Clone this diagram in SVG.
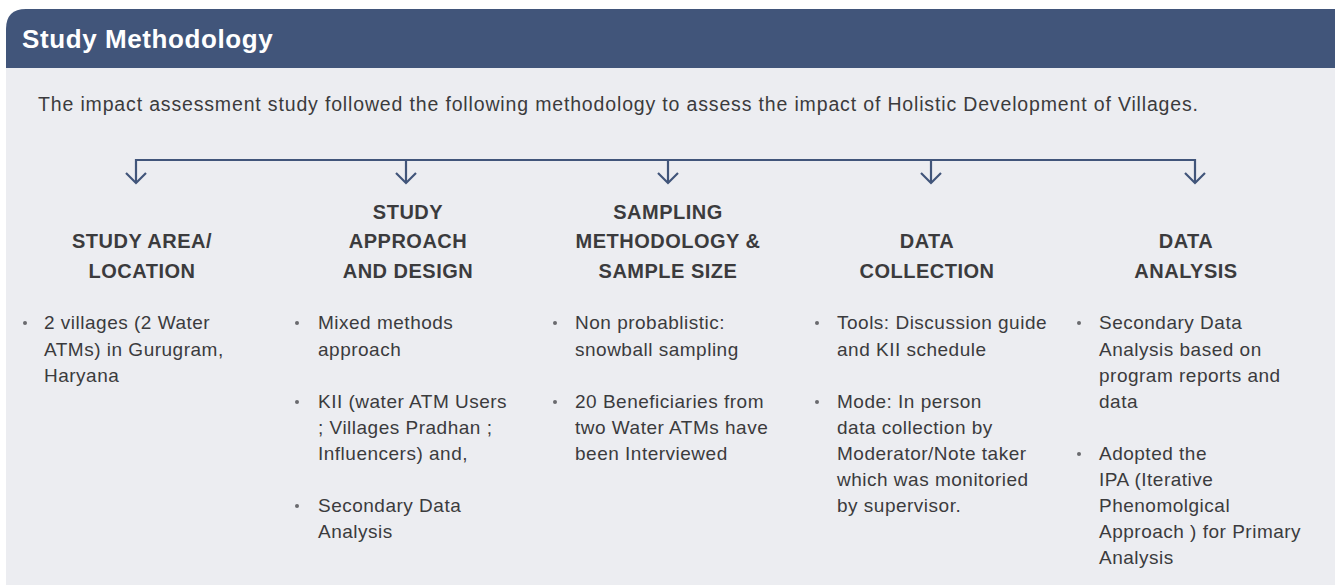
<svg xmlns="http://www.w3.org/2000/svg" width="1335" height="585" viewBox="0 0 1335 585">
  <style>
    .title { font-family: "Liberation Sans", Arial, sans-serif; font-size: 26px; font-weight: bold; fill: #ffffff; letter-spacing: 0.6px; }
    .intro { font-family: "Liberation Sans", Arial, sans-serif; font-size: 19.5px; fill: #3b3b3d; }
    .head { font-family: "Liberation Sans", Arial, sans-serif; font-size: 20px; font-weight: bold; fill: #3b3b3d; text-anchor: middle; letter-spacing: 0.5px; }
    .body { font-family: "Liberation Sans", Arial, sans-serif; font-size: 19px; fill: #3b3b3d; letter-spacing: 0.5px; }
    .dot { fill: #6a6a6e; }
    .conn { fill: none; stroke: #41557a; stroke-width: 2.2; }
  </style>

  <!-- panel -->
  <rect x="0" y="0" width="1335" height="585" fill="#ffffff"/>
  <rect x="6" y="66" width="1329" height="519" fill="#ecedf1"/>
  <path d="M6,68 L6,29 Q6,9 26,9 L1335,9 L1335,68 Z" fill="#41557a"/>
  <text class="title" x="22" y="48">Study Methodology</text>
  <text class="intro" x="38" y="111" textLength="1160" lengthAdjust="spacing">The impact assessment study followed the following methodology to assess the impact of Holistic Development of Villages.</text>

  <!-- connectors -->
  <g id="connectors">
    <path class="conn" d="M136,183 L136,160 L1195,160 L1195,183"/>
    <path class="conn" d="M406,160 L406,183"/>
    <path class="conn" d="M668,160 L668,183"/>
    <path class="conn" d="M931,160 L931,183"/>
    <path class="conn" d="M126,173 L136,183 L146,173"/>
    <path class="conn" d="M396,173 L406,183 L416,173"/>
    <path class="conn" d="M658,173 L668,183 L678,173"/>
    <path class="conn" d="M921,173 L931,183 L941,173"/>
    <path class="conn" d="M1185,173 L1195,183 L1205,173"/>
  </g>

  <g id="study-area">
    <text class="head" x="142" y="248">STUDY AREA/</text>
    <text class="head" x="142" y="278">LOCATION</text>
    <circle class="dot" cx="25" cy="323" r="2"/>
    <text class="body" x="44" y="329">2 villages (2 Water</text>
    <text class="body" x="44" y="356">ATMs) in Gurugram,</text>
    <text class="body" x="44" y="382">Haryana</text>
  </g>

  <g id="study-approach">
    <text class="head" x="408" y="219">STUDY</text>
    <text class="head" x="408" y="248">APPROACH</text>
    <text class="head" x="408" y="278">AND DESIGN</text>
    <circle class="dot" cx="297" cy="323" r="2"/>
    <text class="body" x="318" y="329">Mixed methods</text>
    <text class="body" x="318" y="356">approach</text>
    <circle class="dot" cx="297" cy="402" r="2"/>
    <text class="body" x="318" y="408">KII (water ATM Users</text>
    <text class="body" x="318" y="434">; Villages Pradhan ;</text>
    <text class="body" x="318" y="460">Influencers) and,</text>
    <circle class="dot" cx="297" cy="506" r="2"/>
    <text class="body" x="318" y="512">Secondary Data</text>
    <text class="body" x="318" y="538">Analysis</text>
  </g>

  <g id="sampling">
    <text class="head" x="668" y="219">SAMPLING</text>
    <text class="head" x="668" y="248">METHODOLOGY &amp;</text>
    <text class="head" x="668" y="278">SAMPLE SIZE</text>
    <circle class="dot" cx="555" cy="323" r="2"/>
    <text class="body" x="575" y="329">Non probablistic:</text>
    <text class="body" x="575" y="356">snowball sampling</text>
    <circle class="dot" cx="555" cy="402" r="2"/>
    <text class="body" x="575" y="408">20 Beneficiaries from</text>
    <text class="body" x="575" y="434">two Water ATMs have</text>
    <text class="body" x="575" y="460">been Interviewed</text>
  </g>

  <g id="data-collection">
    <text class="head" x="927" y="248">DATA</text>
    <text class="head" x="927" y="278">COLLECTION</text>
    <circle class="dot" cx="817" cy="323" r="2"/>
    <text class="body" x="837" y="329">Tools: Discussion guide</text>
    <text class="body" x="837" y="356">and KII schedule</text>
    <circle class="dot" cx="817" cy="402" r="2"/>
    <text class="body" x="837" y="408">Mode: In person</text>
    <text class="body" x="837" y="434">data collection by</text>
    <text class="body" x="837" y="460">Moderator/Note taker</text>
    <text class="body" x="837" y="486">which was monitoried</text>
    <text class="body" x="837" y="512">by supervisor.</text>
  </g>

  <g id="data-analysis">
    <text class="head" x="1186" y="248">DATA</text>
    <text class="head" x="1186" y="278">ANALYSIS</text>
    <circle class="dot" cx="1079" cy="323" r="2"/>
    <text class="body" x="1099" y="329">Secondary Data</text>
    <text class="body" x="1099" y="356">Analysis based on</text>
    <text class="body" x="1099" y="382">program reports and</text>
    <text class="body" x="1099" y="408">data</text>
    <circle class="dot" cx="1079" cy="454" r="2"/>
    <text class="body" x="1099" y="460">Adopted the</text>
    <text class="body" x="1099" y="486">IPA (Iterative</text>
    <text class="body" x="1099" y="512">Phenomolgical</text>
    <text class="body" x="1099" y="538">Approach ) for Primary</text>
    <text class="body" x="1099" y="564">Analysis</text>
  </g>
</svg>
